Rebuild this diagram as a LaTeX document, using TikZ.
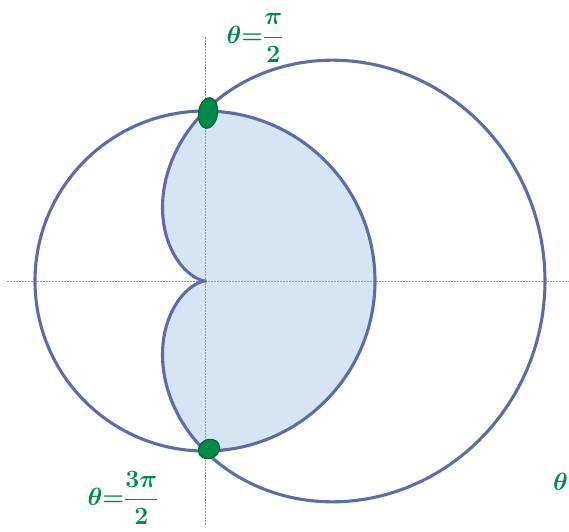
\documentclass[tikz,border=0pt]{standalone}
\usetikzlibrary{shapes.geometric, positioning}
\usepackage{amsmath, amssymb}

\definecolor{curveblue}{RGB}{92,108,170}
\definecolor{shadeblue}{RGB}{214,229,243}
\definecolor{markgreen}{RGB}{0,138,72}

\begin{document}
\begin{tikzpicture}[
    x=1pt, y=1pt,
    axis/.style={gray!80, line width=0.9pt, dash pattern=on 2pt off 1pt},
    curve/.style={curveblue, line width=3.1pt},
    region/.style={fill=shadeblue},
    dotmark/.style={ellipse, fill=markgreen, draw=markgreen!70!black, line width=1pt,
                 inner sep=0pt},
    lbl/.style={text=markgreen, font=\fontsize{26}{30}\selectfont\boldmath, inner sep=1pt},
]
    \useasboundingbox (-205,-250) rectangle (364,281);

    % --- shaded intersection ---
    \path[region] (0,-170) arc[start angle=-90, end angle=90, radius=170]
        -- plot[domain=90:270, samples=120, smooth]
           ({170*(1+cos(\x))*cos(\x)}, {170*(1+cos(\x))*sin(\x)}) -- cycle;

    % --- axes ---
    \draw[axis] (-198,0) -- (364,0);
    \draw[axis] (0,-244) -- (0,244);

    % --- curves ---
    \draw[curve] (0,0) circle[radius=170];
    \draw[curve] plot[domain=0:360, samples=240, smooth]
        ({170*(1+cos(\x))*cos(\x)}, {170*(1+cos(\x))*sin(\x)}) -- cycle;

    % --- intersection marks ---
    \node[dotmark, minimum width=19pt, minimum height=31pt, rotate=-8] (markTop) at (3,168) {};
    \node[dotmark, minimum width=22pt, minimum height=19pt, rotate=30] (markBot) at (4,-168) {};

    % --- labels ---
    \node[lbl] (lblTop) at (50,243) {$\theta{=}\dfrac{\pi}{2}$};
    \node[lbl] (lblBot) at (-82,-217) {$\theta{=}\dfrac{3\pi}{2}$};
    \node[lbl, anchor=east, font=\fontsize{30}{34}\selectfont\boldmath] (lblRight) at (364,-201) {$\theta$};
\end{tikzpicture}
\end{document}
